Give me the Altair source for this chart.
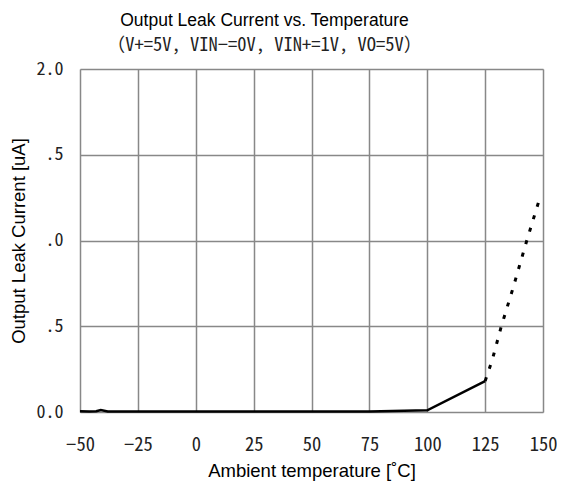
import altair as alt
import pandas as pd

# solid (measured) segment
solid_x = [-50, -46, -43, -41, -38, 0, 50, 75, 100, 125]
solid_y = [0.005, 0.003, 0.004, 0.012, 0.003, 0.003, 0.003, 0.003, 0.01, 0.18]
# dotted (extrapolated) segment
dot_x = [125, 128, 132, 137, 143, 148]
dot_y = [0.18, 0.30, 0.50, 0.72, 1.0, 1.22]

df_solid = pd.DataFrame({"t": solid_x, "i": solid_y})
df_dot = pd.DataFrame({"t": dot_x, "i": dot_y})

xs = alt.Scale(domain=[-50, 150], nice=False)
ys = alt.Scale(domain=[0, 2.0], nice=False)

MONO = "Noto Sans Mono CJK JP"
SANS = "Liberation Sans"

xaxis = alt.Axis(values=list(range(-50, 151, 25)), title="Ambient temperature [\u02daC]",
                 labelFont=MONO, labelFontSize=18.5, labelColor="#222", labelFlush=False,
                 labelPadding=23, ticks=False, domain=False,
                 titleFont=SANS, titleFontSize=18.5, titleFontWeight="normal",
                 titleColor="black", titlePadding=8,
                 gridColor="#888", gridWidth=1.5)
yaxis = alt.Axis(values=[0, 0.5, 1.0, 1.5, 2.0], title="Output Leak Current [uA]",
                 labelExpr="datum.value==2 ? '2.0' : datum.value==0 ? '0.0' : datum.value==1 ? '.0' : '.5'",
                 labelFont=MONO, labelFontSize=18, labelColor="#222", labelFlush=False,
                 labelPadding=17, ticks=False, domain=False,
                 titleFont=SANS, titleFontSize=18.5, titleFontWeight="normal",
                 titleColor="black", titlePadding=8,
                 gridColor="#888", gridWidth=1.5)

solid = alt.Chart(df_solid).mark_line(color="black", strokeWidth=2.5).encode(
    x=alt.X("t:Q", scale=xs, axis=xaxis),
    y=alt.Y("i:Q", scale=ys, axis=yaxis),
)
dotted = alt.Chart(df_dot).mark_line(color="black", strokeWidth=3, strokeDash=[4, 9]).encode(
    x=alt.X("t:Q", scale=xs),
    y=alt.Y("i:Q", scale=ys),
)

chart = (solid + dotted).properties(
    width=463, height=343,
    autosize=alt.AutoSizeParams(type="none"),
    padding={"left": 72, "top": 61, "right": 14, "bottom": 69},
    title=alt.TitleParams(
        text="Output Leak Current vs. Temperature",
        subtitle="\uff08V+=5V, VIN\u2212=0V, VIN+=1V, VO=5V\uff09",
        font=SANS, fontSize=17.5, fontWeight="normal", color="black",
        subtitleFont=MONO, subtitleFontSize=18.5, subtitleColor="#222",
        anchor="middle", dx=-47, offset=6, subtitlePadding=6,
    ),
).configure_view(stroke="black", strokeWidth=1.5).configure(background="white")

chart.save("out.html", embed_options={"renderer": "svg", "actions": False})
